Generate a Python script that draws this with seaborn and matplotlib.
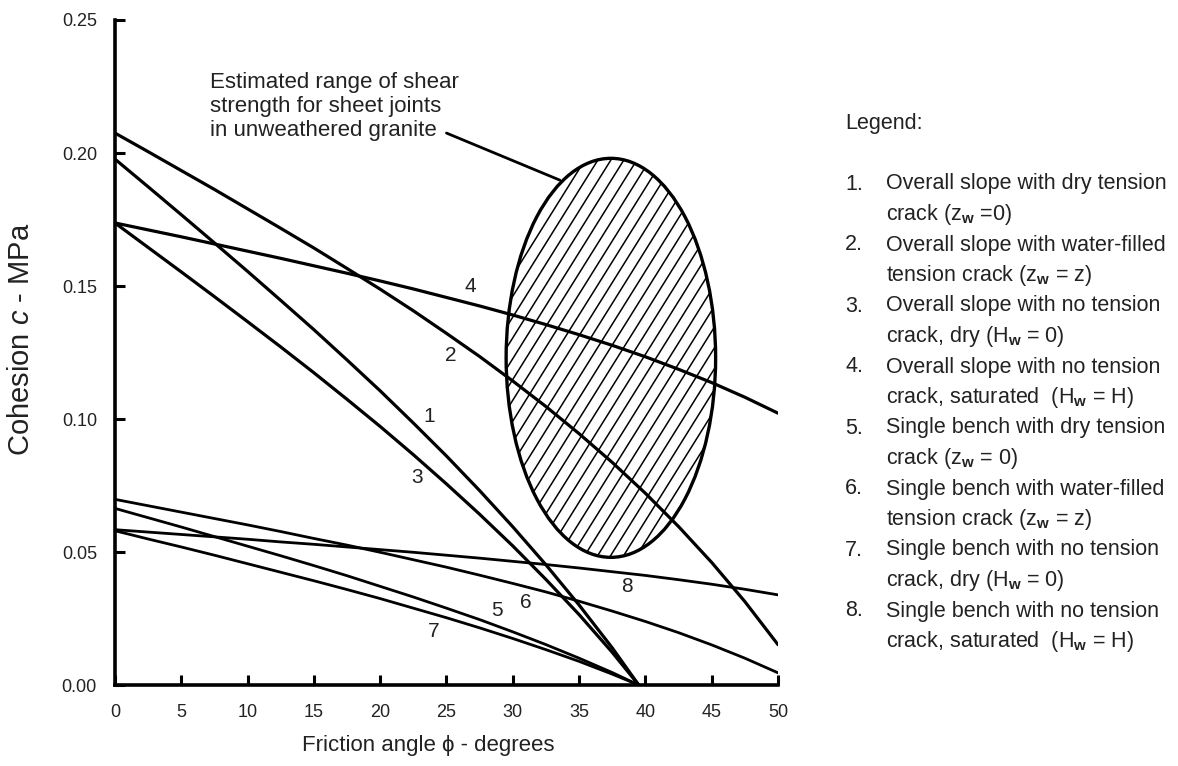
import numpy as np
import pandas as pd
import matplotlib
matplotlib.use("Agg")
import matplotlib.pyplot as plt
from matplotlib.patches import Ellipse
import seaborn as sns

# ==================================================
# DATA
# ==================================================

# friction angle phi (degrees)
phi_full = [0, 2.5, 5, 7.5, 10, 12.5, 15, 17.5, 20, 22.5, 25,
            27.5, 30, 32.5, 35, 37.5, 40, 42.5, 45, 47.5, 50]
phi_dry = [0, 2.5, 5, 7.5, 10, 12.5, 15, 17.5, 20, 22.5, 25,
           27.5, 30, 32.5, 35, 37.5, 39.5]

# cohesion c (MPa) for each case
c_1 = [0.1977, 0.1873, 0.1768, 0.1662, 0.1555, 0.1446, 0.1336, 0.1222, 0.1106,
       0.0985, 0.0861, 0.0731, 0.0595, 0.0452, 0.0301, 0.0140, 0.0]
c_2 = [0.2075, 0.2005, 0.1934, 0.1863, 0.1790, 0.1717, 0.1643, 0.1566, 0.1488,
       0.1407, 0.1322, 0.1235, 0.1143, 0.1047, 0.0945, 0.0837, 0.0721, 0.0596,
       0.0461, 0.0314, 0.0152]
c_3 = [0.1737, 0.1645, 0.1553, 0.1460, 0.1366, 0.1271, 0.1174, 0.1074, 0.0972,
       0.0866, 0.0756, 0.0642, 0.0523, 0.0397, 0.0265, 0.0123, 0.0]
c_4 = [0.1737, 0.1711, 0.1685, 0.1658, 0.1631, 0.1604, 0.1576, 0.1548, 0.1519,
       0.1489, 0.1457, 0.1425, 0.1391, 0.1355, 0.1317, 0.1277, 0.1234, 0.1187,
       0.1137, 0.1082, 0.1022]
c_5 = [0.0664, 0.0629, 0.0594, 0.0558, 0.0522, 0.0486, 0.0449, 0.0411, 0.0371,
       0.0331, 0.0289, 0.0246, 0.0200, 0.0152, 0.0101, 0.0047, 0.0]
c_6 = [0.0698, 0.0674, 0.0650, 0.0626, 0.0602, 0.0577, 0.0551, 0.0526, 0.0499,
       0.0471, 0.0443, 0.0413, 0.0382, 0.0350, 0.0315, 0.0278, 0.0239, 0.0197,
       0.0151, 0.0101, 0.0046]
c_7 = [0.0580, 0.0549, 0.0519, 0.0488, 0.0456, 0.0424, 0.0392, 0.0359, 0.0325,
       0.0289, 0.0253, 0.0215, 0.0175, 0.0133, 0.0089, 0.0041, 0.0]
c_8 = [0.0584, 0.0575, 0.0566, 0.0557, 0.0548, 0.0538, 0.0529, 0.0519, 0.0509,
       0.0499, 0.0488, 0.0477, 0.0465, 0.0453, 0.0440, 0.0426, 0.0412, 0.0396,
       0.0379, 0.0360, 0.0339]

curve_names = ["1", "2", "3", "4", "5", "6", "7", "8"]

# curve number labels on the plot
label_phi = [23.7, 25.3, 22.8, 26.8, 28.8, 31.0, 24.0, 38.6]
label_c = [0.101, 0.124, 0.078, 0.150, 0.028, 0.031, 0.020, 0.037]

# estimated range of shear strength (ellipse)
ell_phi = 37.4
ell_c = 0.123
ell_w = 15.8
ell_h = 0.150

x_ticks = [0, 5, 10, 15, 20, 25, 30, 35, 40, 45, 50]
y_ticks = [0.00, 0.05, 0.10, 0.15, 0.20, 0.25]

legend_lines = [
    ("1.", "Overall slope with dry tension"),
    ("", r"crack (z$_\mathbf{w}$ =0)"),
    ("2.", "Overall slope with water-filled"),
    ("", r"tension crack (z$_\mathbf{w}$ = z)"),
    ("3.", "Overall slope with no tension"),
    ("", r"crack, dry (H$_\mathbf{w}$ = 0)"),
    ("4.", "Overall slope with no tension"),
    ("", r"crack, saturated  (H$_\mathbf{w}$ = H)"),
    ("5.", "Single bench with dry tension"),
    ("", r"crack (z$_\mathbf{w}$ = 0)"),
    ("6.", "Single bench with water-filled"),
    ("", r"tension crack (z$_\mathbf{w}$ = z)"),
    ("7.", "Single bench with no tension"),
    ("", r"crack, dry (H$_\mathbf{w}$ = 0)"),
    ("8.", "Single bench with no tension"),
    ("", r"crack, saturated  (H$_\mathbf{w}$ = H)"),
]

rows = []
for name, xs, ys in zip(
    curve_names,
    [phi_dry, phi_full, phi_dry, phi_full, phi_dry, phi_full, phi_dry, phi_full],
    [c_1, c_2, c_3, c_4, c_5, c_6, c_7, c_8],
):
    for x, y in zip(xs, ys):
        rows.append({"curve": name, "phi": x, "c": y})
df = pd.DataFrame(rows)

# ==================================================
# STYLE
# ==================================================

sns.set_theme(style="ticks")
plt.rcParams["font.family"] = ["Liberation Sans", "DejaVu Sans"]
plt.rcParams["mathtext.fontset"] = "custom"
plt.rcParams["mathtext.rm"] = "Liberation Sans"
plt.rcParams["mathtext.it"] = "Liberation Sans:italic"
plt.rcParams["mathtext.bf"] = "Liberation Sans:bold"

fig = plt.figure(figsize=(11.78, 7.66), dpi=100)
ax = fig.add_axes([0.0976, 0.1057, 0.5628, 0.8682])

# ==================================================
# CURVES
# ==================================================

for name in curve_names:
    sub = df[df["curve"] == name]
    sns.lineplot(
        data=sub, x="phi", y="c", ax=ax,
        color="black", linewidth=2.3 if name in "1234" else 2.0,
        estimator=None, sort=False, legend=False,
    )

for name, x, y in zip(curve_names, label_phi, label_c):
    ax.text(x, y, name, fontsize=15, color="#222222",
            ha="center", va="center")

# ==================================================
# ELLIPSE WITH HATCHING
# ==================================================

ell = Ellipse((ell_phi, ell_c), ell_w, ell_h,
              facecolor="none", edgecolor="black", linewidth=2.4, zorder=3)
ax.add_patch(ell)

slope = 0.00798   # steep hatch lines (about 58 deg on screen)
for p in np.arange(ell_phi - 25, ell_phi + 25, 0.98):
    hl, = ax.plot([p - 14, p + 14],
                  [ell_c - slope * 14, ell_c + slope * 14],
                  color="black", linewidth=1.1, zorder=2)
    hl.set_clip_path(ell)

ax.text(7.16, 0.2175,
        "Estimated range of shear\nstrength for sheet joints\nin unweathered granite",
        fontsize=16, color="#222222", ha="left", va="center",
        linespacing=1.18)
ax.annotate("", xy=(33.55, 0.1898), xytext=(25.0, 0.2075),
            arrowprops=dict(arrowstyle="-", color="black", lw=2.0,
                            shrinkA=0, shrinkB=0))

# ==================================================
# AXES
# ==================================================

ax.set_xlim(0, 50)
ax.set_ylim(0, 0.25)
ax.set_xticks(x_ticks)
ax.set_yticks(y_ticks)
ax.set_yticklabels([f"{v:.2f}" for v in y_ticks])
ax.tick_params(axis="both", direction="in", length=7, width=2.2,
               labelsize=13, colors="black", labelcolor="#222222")
ax.tick_params(axis="y", pad=13)
ax.tick_params(axis="x", pad=14)
sns.despine(ax=ax)
for side in ["left", "bottom"]:
    ax.spines[side].set_linewidth(2.6)
    ax.spines[side].set_color("black")

ax.set_xlabel("Friction angle ϕ - degrees", fontsize=16, color="#222222")
ax.set_ylabel(r"Cohesion $c$ - MPa", fontsize=21, color="#222222")
ax.xaxis.set_label_coords(0.472, -0.075)
ax.yaxis.set_label_coords(-0.12, 0.52)

# ==================================================
# LEGEND TEXT
# ==================================================

W, H = 1178.0, 766.0
fig.text(845 / W, 1 - 129.5 / H, "Legend:", fontsize=15.5, color="#222222",
         va="baseline")
for i, (num, txt) in enumerate(legend_lines):
    y = 1 - (189.5 + 30.5 * i) / H
    if num:
        fig.text(845 / W, y, num, fontsize=15.5, color="#222222", va="baseline")
    fig.text(886 / W, y, txt, fontsize=15.5, color="#222222", va="baseline")

fig.savefig("out.png", dpi=100)
plt.close()
